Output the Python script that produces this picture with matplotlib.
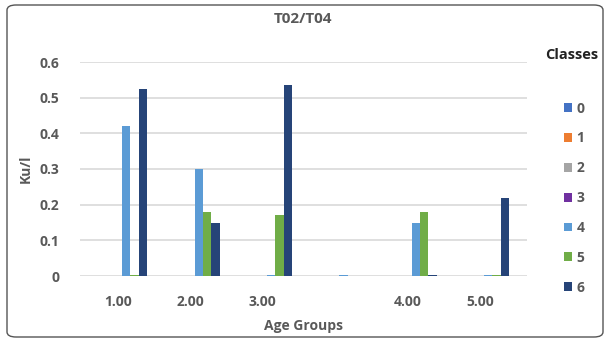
import matplotlib
matplotlib.use("Agg")
import matplotlib.pyplot as plt
import numpy as np
from matplotlib.patches import FancyBboxPatch, Patch

groups = ["1.00", "2.00", "3.00", "", "4.00", "5.00"]
classes = ["0", "1", "2", "3", "4", "5", "6"]
colors = ["#4472C4", "#ED7D31", "#A5A5A5", "#7030A0", "#5B9BD5", "#70AD47", "#264478"]
values = {
    "0": [0, 0, 0, 0, 0, 0],
    "1": [0, 0, 0, 0, 0, 0],
    "2": [0, 0, 0, 0, 0, 0],
    "3": [0, 0, 0, 0, 0, 0],
    "4": [0.42, 0.30, 0.002, 0.002, 0.15, 0.002],
    "5": [0.002, 0.18, 0.17, 0, 0.18, 0.002],
    "6": [0.525, 0.15, 0.535, 0, 0.002, 0.22],
}

plt.rcParams['font.family'] = ['Open Sans', 'DejaVu Sans']
fig = plt.figure(figsize=(6.06, 3.42), dpi=100)
ax = fig.add_axes([80/606, 1-276/342, (527-80)/606, (276-62)/342])

n = len(classes)
bw = 0.115
x = np.arange(len(groups))
for i, c in enumerate(classes):
    ax.bar(x + (i - 3) * bw, values[c], width=bw, color=colors[i], edgecolor="none", zorder=3)

ax.set_xlim(-0.525, 5.65)
ax.set_ylim(0, 0.6)
ax.set_yticks(np.arange(0, 0.61, 0.1))
ax.set_yticklabels(["0", "0.1", "0.2", "0.3", "0.4", "0.5", "0.6"])
ax.set_xticks(x)
ax.set_xticklabels(groups)
ax.tick_params(length=0, labelsize=10, colors="#595959")
for lab in ax.get_xticklabels() + ax.get_yticklabels():
    lab.set_fontweight("bold")
ax.tick_params(axis="y", pad=15)
ax.tick_params(axis="x", pad=14)
ax.grid(axis="y", color="#D9D9D9", linewidth=1.2, zorder=0)
for s in ax.spines.values():
    s.set_visible(False)

ax.set_ylabel("Ku/l", fontsize=10, color="#595959", fontweight="bold", labelpad=5)
ax.set_xlabel("Age Groups", fontsize=10, color="#595959", fontweight="bold", labelpad=7)
fig.text(303/606, 1-19/342, "T02/T04", ha="center", va="center", fontsize=11,
         fontweight="bold", color="#595959")

fig.text(572/606, 1-55/342, "Classes", ha="center", va="center", fontsize=10.5,
         fontweight="bold", color="#222222")
handles = [Patch(facecolor=colors[i], label=classes[i]) for i in range(n)]
leg = fig.legend(handles=handles, loc="upper left", bbox_to_anchor=(551/606, 1-89/342),
                 frameon=False, fontsize=10, handlelength=0.6, handleheight=0.6,
                 handletextpad=0.35, labelspacing=1.14)
for t in leg.get_texts():
    t.set_color("#595959")
    t.set_fontweight("bold")

border = FancyBboxPatch((7/606, 5/342), 596/606, 332/342, boxstyle="round,pad=0,rounding_size=0.015",
                        transform=fig.transFigure, facecolor="none", edgecolor="#555555", linewidth=1.0)
fig.patches.append(border)

fig.savefig("out.png", dpi=100)
